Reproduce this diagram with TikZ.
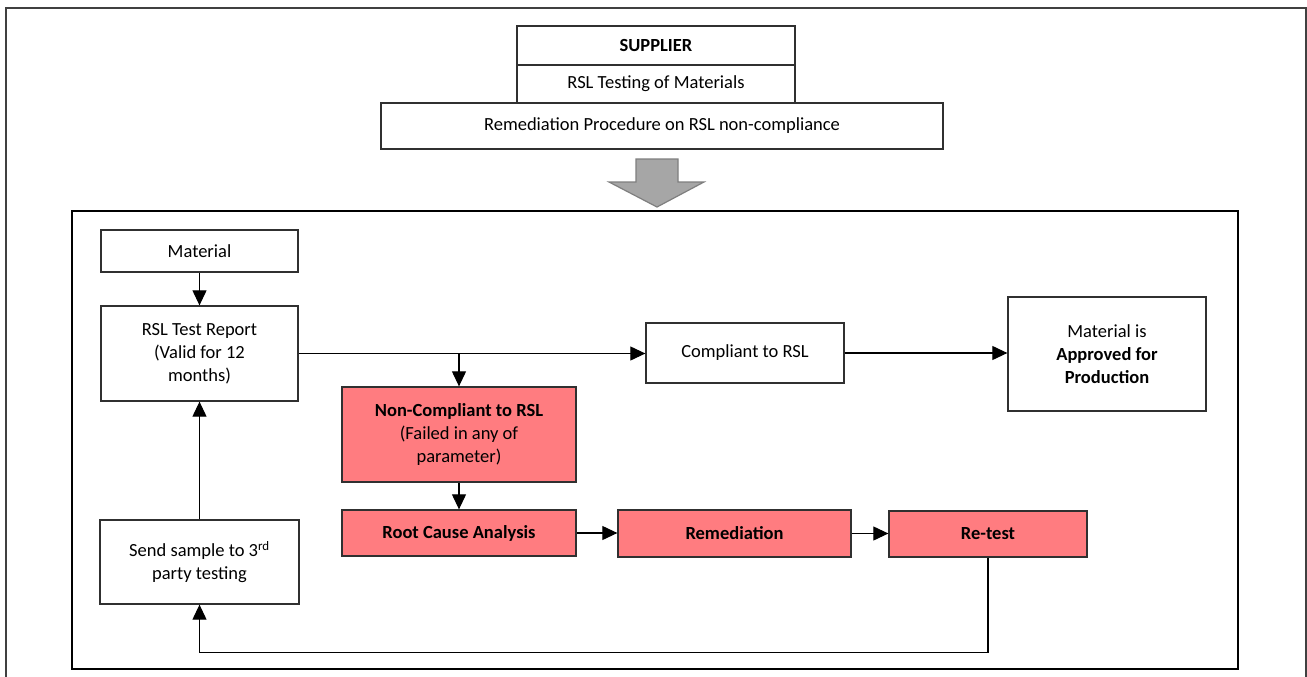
\documentclass[tikz,border=0pt]{standalone}
\usepackage{fontspec}
\setmainfont{Carlito}
\usetikzlibrary{arrows.meta,calc}
\definecolor{pinkfill}{HTML}{FF7C80}
\definecolor{boxline}{HTML}{303030}
\definecolor{framegray}{HTML}{404040}
\definecolor{arrowfill}{HTML}{A6A6A6}
\definecolor{arrowline}{HTML}{7F7F7F}
\begin{document}
\begin{tikzpicture}[x=1pt,y=-1pt,
  box/.style={draw=boxline,line width=1.3pt,align=center,inner sep=0pt,fill=white,
    font=\fontsize{18.5}{23}\selectfont},
  redbox/.style={box,fill=pinkfill},
  conn/.style={line width=1.1pt,draw=black,-{Triangle[length=15pt,width=14pt]}},
  bigarrow/.style={fill=arrowfill,draw=arrowline,line width=1.2pt,line join=miter}]
\useasboundingbox (0,0) rectangle (1307,677);
\fill[white] (0,0) rectangle (1307,677);
% outer frame (bottom edge lies outside the picture)
\draw[framegray,line width=2pt] (6,690) -- (6,8) -- (1306,8) -- (1306,690);

% top stack
\node[box,minimum width=278,minimum height=39] (sup) at (656,45.5) {\textbf{SUPPLIER}};
\node[box,minimum width=278,minimum height=38] (rsltest) at (656,84) {RSL Testing of Materials};
\node[box,minimum width=562,minimum height=46] (remproc) at (662,126) {Remediation Procedure on RSL non-compliance};

% big gray arrow
\path[bigarrow] (636,159) -- (678,159) -- (678,182) -- (704,182) -- (657,207) -- (609,182) -- (636,182) -- cycle;

% inner frame
\draw[black,line width=1.5pt] (72,211) rectangle (1238,669);

% flow boxes
\node[box,minimum width=197,minimum height=42] (mat) at (199.5,251) {Material};
\node[box,minimum width=197,minimum height=95] (rsl) at (199.5,353.5) {RSL Test Report\\(Valid for 12\\months)};
\node[box,minimum width=198,minimum height=60] (comp) at (745,353) {Compliant to RSL};
\node[box,minimum width=198,minimum height=114] (app) at (1107,354) {Material is\\\textbf{Approved for}\\\textbf{Production}};
\node[redbox,minimum width=234,minimum height=95] (nc) at (459,434.5) {\textbf{Non-Compliant to RSL}\\(Failed in any of\\parameter)};
\node[redbox,minimum width=234,minimum height=46] (rc) at (459,533) {\textbf{Root Cause Analysis}};
\node[redbox,minimum width=233,minimum height=47] (rem) at (734.5,533.5) {\textbf{Remediation}};
\node[redbox,minimum width=198,minimum height=46] (rt) at (988,534) {\textbf{Re-test}};
\node[box,minimum width=199,minimum height=84] (send) at (199.5,562) {Send sample to 3\textsuperscript{rd}\\party testing};

% connectors
\draw[conn] (mat) -- (rsl);
\draw[conn] (rsl.east) -- (rsl.east -| comp.west);
\draw[conn] (rsl.east -| nc.north) -- (nc.north);
\draw[conn] (comp.east) -- (comp.east -| app.west);
\draw[conn] (nc) -- (rc);
\draw[conn] (rc.east) -- (rc.east -| rem.west);
\draw[conn] (rem.east) -- (rem.east -| rt.west);
\draw[conn] (rt.south) -- ++(0,95) -| (send.south);
\draw[conn] (send) -- (rsl);
\end{tikzpicture}
\end{document}
